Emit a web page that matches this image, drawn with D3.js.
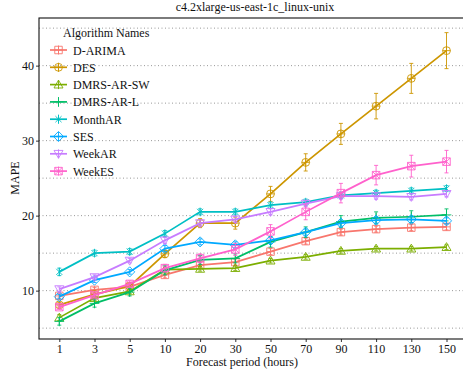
<!DOCTYPE html>
<html>
<head>
<meta charset="utf-8">
<script src="https://cdn.jsdelivr.net/npm/d3@7"></script>
<style>
  html, body { margin: 0; padding: 0; background: #fff; }
  svg { display: block; }
</style>
</head>
<body>
<svg id="chart" width="463" height="378"></svg>
<script>
// Forecast horizons (hours) on the x axis
const periods = ["1", "3", "5", "10", "20", "30", "50", "70", "90", "110", "130", "150"];
const yTicks = [10, 20, 30, 40];
const yGrid = [5, 10, 15, 20, 25, 30, 35, 40, 45];

const seriesNames = ["D-ARIMA", "DES", "DMRS-AR-SW", "DMRS-AR-L", "MonthAR", "SES", "WeekAR", "WeekES"];
const seriesColors = ["#F8766D", "#CD9600", "#7CAE00", "#00BE67", "#00BFC4", "#00A9FF", "#C77CFF", "#FF61CC"];
const seriesShapes = ["squarePlus", "circlePlus", "triangle", "plus", "asterisk", "diamond", "triangleDown", "squareCross"];

// Mean MAPE per horizon
const dArima   = [9.3, 10.1, 10.5, 12.1, 13.4, 13.8, 15.2, 16.6, 17.8, 18.2, 18.4, 18.5];
const des      = [8.1, 9.5, 10.6, 14.9, 19.0, 19.0, 22.9, 27.1, 30.9, 34.6, 38.3, 42.0];
const dmrsArSw = [6.4, 9.0, 9.9, 12.8, 12.9, 13.0, 14.0, 14.5, 15.3, 15.6, 15.6, 15.8];
const dmrsArL  = [5.9, 8.3, 9.8, 12.7, 14.1, 14.3, 16.5, 17.8, 19.2, 19.7, 19.85, 20.1];
const monthAr  = [12.5, 15.0, 15.2, 17.6, 20.5, 20.5, 21.4, 21.8, 22.7, 23.0, 23.3, 23.6];
const ses      = [9.2, 11.4, 12.5, 15.6, 16.5, 16.1, 16.7, 17.8, 19.0, 19.4, 19.5, 19.3];
const weekAr   = [10.2, 11.8, 14.0, 16.7, 19.0, 19.5, 20.5, 21.6, 22.6, 22.6, 22.5, 22.9];
const weekEs   = [7.8, 9.4, 10.9, 13.0, 14.3, 15.5, 17.9, 20.5, 23.0, 25.4, 26.6, 27.2];

// Half-width of the error bars per horizon
const dArimaErr   = [0.3, 0.3, 0.3, 0.4, 0.4, 0.4, 0.4, 0.4, 0.4, 0.4, 0.4, 0.4];
const desErr      = [0.3, 0.3, 0.4, 0.5, 0.6, 0.8, 1.0, 1.15, 1.4, 1.7, 2.0, 2.4];
const dmrsArSwErr = [0.4, 0.3, 0.3, 0.3, 0.3, 0.3, 0.3, 0.3, 0.3, 0.3, 0.3, 0.3];
const dmrsArLErr  = [0.5, 0.5, 0.5, 0.6, 0.6, 0.6, 0.7, 0.7, 0.8, 0.8, 0.8, 0.8];
const monthArErr  = [0.5, 0.4, 0.4, 0.4, 0.4, 0.4, 0.4, 0.4, 0.4, 0.4, 0.4, 0.4];
const sesErr      = [0.3, 0.3, 0.3, 0.4, 0.4, 0.4, 0.4, 0.4, 0.4, 0.4, 0.4, 0.4];
const weekArErr   = [0.3, 0.3, 0.3, 0.4, 0.4, 0.4, 0.4, 0.4, 0.4, 0.4, 0.4, 0.4];
const weekEsErr   = [0.3, 0.3, 0.4, 0.5, 0.6, 0.8, 0.9, 1.05, 1.3, 1.3, 1.45, 1.5];

const seriesValues = [dArima, des, dmrsArSw, dmrsArL, monthAr, ses, weekAr, weekEs];
const seriesErrors = [dArimaErr, desErr, dmrsArSwErr, dmrsArLErr, monthArErr, sesErr, weekArErr, weekEsErr];

const FONT = "'Liberation Serif', 'Times New Roman', Times, 'DejaVu Serif', serif";

const svg = d3.select("#chart")
  .attr("font-family", FONT);
const panel = { left: 39, right: 468, top: 18, bottom: 339 };

const x = d3.scalePoint().domain(periods).range([59.3, 446.5]);
const y = d3.scaleLinear().domain([3.55, 46.35]).range([panel.bottom, panel.top]);

function label(sel) {
  return sel.attr("font-family", FONT).style("font-family", FONT)
    .style("font-size", "12px").attr("fill", "#111");
}

// Title
svg.append("text")
  .attr("x", 255).attr("y", 11)
  .attr("text-anchor", "middle")
  .call(label)
  .text("c4.2xlarge-us-east-1c_linux-unix");

// Dotted horizontal grid
svg.append("g").selectAll("line").data(yGrid).join("line")
  .attr("x1", panel.left).attr("x2", panel.right)
  .attr("y1", d => y(d)).attr("y2", d => y(d))
  .attr("stroke", "#8c8c8c").attr("stroke-width", 0.9)
  .attr("stroke-dasharray", "1,2.5");

// Axes
const xAxis = svg.append("g")
  .attr("transform", `translate(0,${panel.bottom})`)
  .call(d3.axisBottom(x).tickSize(3).tickPadding(2));
xAxis.attr("font-family", FONT);
xAxis.select(".domain").remove();
xAxis.selectAll("line").attr("stroke", "#333");
xAxis.selectAll("text").call(label);

const yAxis = svg.append("g")
  .attr("transform", `translate(${panel.left},0)`)
  .call(d3.axisLeft(y).tickValues(yTicks).tickSize(3).tickPadding(2));
yAxis.attr("font-family", FONT);
yAxis.select(".domain").remove();
yAxis.selectAll("line").attr("stroke", "#333");
yAxis.selectAll("text").call(label);

// Axis titles
svg.append("text")
  .attr("x", 242).attr("y", 366)
  .attr("text-anchor", "middle")
  .call(label)
  .text("Forecast period (hours)");
svg.append("text")
  .attr("transform", "translate(19,178) rotate(-90)")
  .attr("text-anchor", "middle")
  .call(label)
  .text("MAPE");

// Symbol paths, centred on 0,0
function shapePath(kind, s) {
  const h = s / 2;
  switch (kind) {
    case "squarePlus":
      return `M${-h},${-h}H${h}V${h}H${-h}Z M0,${-h}V${h} M${-h},0H${h}`;
    case "squareCross":
      return `M${-h},${-h}H${h}V${h}H${-h}Z M${-h},${-h}L${h},${h} M${h},${-h}L${-h},${h}`;
    case "circlePlus": {
      const r = h * 1.05;
      return `M${r},0A${r},${r} 0 1,1 ${-r},0A${r},${r} 0 1,1 ${r},0 M0,${-r}V${r} M${-r},0H${r}`;
    }
    case "triangle": {
      const t = h * 1.2;
      return `M0,${-t}L${t},${t * 0.75}L${-t},${t * 0.75}Z`;
    }
    case "triangleDown": {
      const t = h * 1.2;
      return `M0,${t}L${t},${-t * 0.75}L${-t},${-t * 0.75}Z`;
    }
    case "plus": {
      const p = h * 1.3;
      return `M0,${-p}V${p} M${-p},0H${p}`;
    }
    case "asterisk": {
      const p = h * 1.15, q = p * 0.707;
      return `M0,${-p}V${p} M${-q},${-q}L${q},${q} M${q},${-q}L${-q},${q}`;
    }
    case "diamond": {
      const p = h * 1.35;
      return `M0,${-p}L${p},0L0,${p}L${-p},0Z`;
    }
  }
}

const line = d3.line().x((d, i) => x(periods[i])).y(d => y(d));
svg.append("defs").append("clipPath").attr("id", "panel-clip")
  .append("rect")
  .attr("x", panel.left).attr("y", panel.top)
  .attr("width", panel.right - panel.left).attr("height", panel.bottom - panel.top);

const plot = svg.append("g").attr("clip-path", "url(#panel-clip)");

seriesNames.forEach((name, k) => {
  const vals = seriesValues[k], errs = seriesErrors[k], col = seriesColors[k];
  const g = plot.append("g");
  // error bars
  vals.forEach((v, i) => {
    const cx = x(periods[i]);
    const e = errs[i];
    g.append("path")
      .attr("d", `M${cx},${y(v - e)}V${y(v + e)} M${cx - 2},${y(v - e)}H${cx + 2} M${cx - 2},${y(v + e)}H${cx + 2}`)
      .attr("stroke", col).attr("stroke-width", 0.9).attr("fill", "none");
  });
  g.append("path").datum(vals)
    .attr("d", line)
    .attr("fill", "none").attr("stroke", col).attr("stroke-width", 1.7);
  g.selectAll(".pt").data(vals).join("path")
    .attr("class", "pt")
    .attr("transform", (d, i) => `translate(${x(periods[i])},${y(d)})`)
    .attr("d", shapePath(seriesShapes[k], 7.5))
    .attr("fill", "none").attr("stroke", col).attr("stroke-width", 0.9);
});

// Panel border
svg.append("rect")
  .attr("x", panel.left).attr("y", panel.top)
  .attr("width", panel.right - panel.left).attr("height", panel.bottom - panel.top)
  .attr("fill", "none").attr("stroke", "#111").attr("stroke-width", 1.1);

// Legend
const legend = svg.append("g");
legend.append("text")
  .attr("x", 63).attr("y", 37)
  .call(label)
  .text("Algorithm Names");
seriesNames.forEach((name, k) => {
  const cy = 50 + k * 17.3;
  const col = seriesColors[k];
  const row = legend.append("g");
  row.append("line")
    .attr("x1", 50).attr("x2", 67).attr("y1", cy).attr("y2", cy)
    .attr("stroke", col).attr("stroke-width", 1.7);
  row.append("line")
    .attr("x1", 58.5).attr("x2", 58.5).attr("y1", cy - 4.5).attr("y2", cy + 4.5)
    .attr("stroke", col).attr("stroke-width", 0.9);
  row.append("path")
    .attr("transform", `translate(58.5,${cy})`)
    .attr("d", shapePath(seriesShapes[k], 7.5))
    .attr("fill", "none").attr("stroke", col).attr("stroke-width", 0.9);
  row.append("text")
    .attr("x", 73).attr("y", cy + 4.5)
    .call(label)
    .text(name);
});
</script>
</body>
</html>
